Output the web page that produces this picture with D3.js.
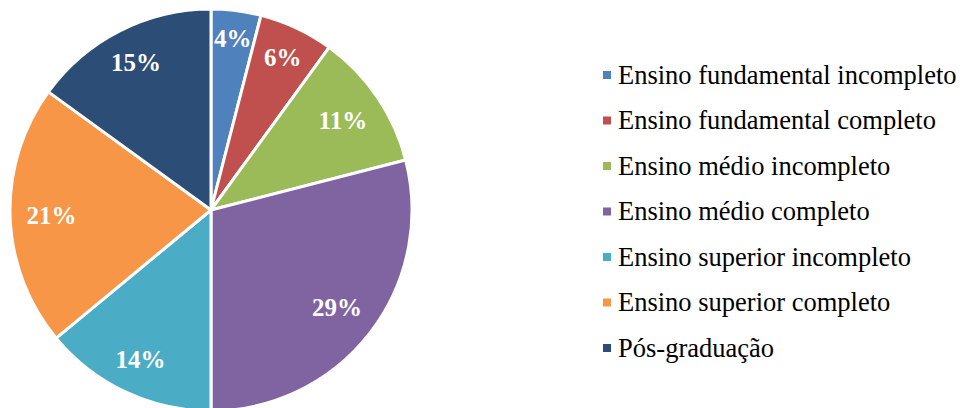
<!DOCTYPE html>
<html>
<head>
<meta charset="utf-8">
<script src="https://cdn.jsdelivr.net/npm/d3@7"></script>
<style>
  html, body { margin: 0; padding: 0; background: #fff; }
  svg { display: block; font-family: "Liberation Serif", "Times New Roman", Times, serif; }
</style>
</head>
<body>
<svg id="chart" width="966" height="408"></svg>
<script>
// Education level distribution
const categories = [
  "Ensino fundamental incompleto",
  "Ensino fundamental completo",
  "Ensino médio incompleto",
  "Ensino médio completo",
  "Ensino superior incompleto",
  "Ensino superior completo",
  "Pós-graduação"
];
const values = [4, 6, 11, 29, 14, 21, 15];
const colors = ["#4F81BD", "#C0504D", "#9BBB59", "#8064A2", "#4BACC6", "#F79646", "#2C4D75"];

const svg = d3.select("#chart");
const cx = 211, cy = 210, radius = 201;
const labelInset = 16; // gap kept between a label's outer corner and the rim

const data = categories.map((c, i) => ({ name: c, value: values[i], color: colors[i] }));

const pie = d3.pie().value(d => d.value).sort(null);
const arc = d3.arc().innerRadius(0).outerRadius(radius);

const g = svg.append("g").attr("transform", `translate(${cx},${cy})`);
const arcs = pie(data);

g.selectAll("path")
  .data(arcs)
  .join("path")
  .attr("d", arc)
  .attr("fill", d => d.data.color)
  .attr("stroke", "#fff")
  .attr("stroke-width", 3)
  .attr("stroke-linejoin", "round");

// Labels placed along each slice's mid-angle, pushed out until the
// outer corner of the label box sits just inside the rim.
const labels = g.selectAll("text.lbl")
  .data(arcs)
  .join("text")
  .attr("class", "lbl")
  .attr("text-anchor", "middle")
  .attr("fill", "#fff")
  .attr("font-weight", "bold")
  .attr("font-size", 25)
  .text(d => d.data.value + "%");

labels.each(function(d) {
  const bb = this.getBBox();
  const hw = bb.width / 2, hh = 8.5;
  const a = (d.startAngle + d.endAngle) / 2;
  const ux = Math.sin(a), uy = -Math.cos(a);
  const target = radius - labelInset;
  let r = 0;
  for (let t = 0; t <= radius; t += 0.5) {
    const x = t * ux, y = t * uy;
    const fx = x + Math.sign(ux || 1) * hw, fy = y + Math.sign(uy || 1) * hh;
    if (Math.hypot(fx, fy) > target) break;
    r = t;
  }
  d3.select(this)
    .attr("x", r * ux)
    .attr("y", r * uy + hh);
});

// Legend
const legend = svg.append("g").attr("transform", "translate(603,75)");
const row = legend.selectAll("g")
  .data(data)
  .join("g")
  .attr("transform", (d, i) => `translate(0,${i * 45.5})`);
row.append("rect")
  .attr("x", 0).attr("y", -4)
  .attr("width", 8).attr("height", 8)
  .attr("fill", d => d.color);
row.append("text")
  .attr("x", 15)
  .attr("y", 8.5)
  .attr("fill", "#000")
  .attr("font-size", 26.5)
  .text(d => d.name);
</script>
</body>
</html>
